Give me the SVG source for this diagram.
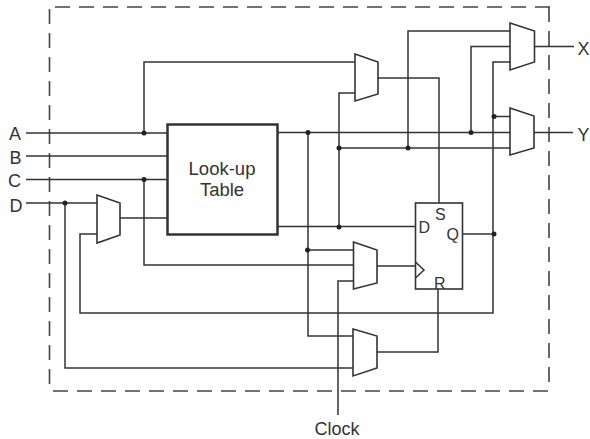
<svg xmlns="http://www.w3.org/2000/svg" width="590" height="439" viewBox="0 0 590 439">
<style>
.c{fill:none;stroke:#333;stroke-width:1.5}
.m{fill:#fff;stroke:#333;stroke-width:1.6;stroke-linejoin:miter}
.d{fill:#222;stroke:none}
.b{fill:none;stroke:#444;stroke-width:1.6;stroke-dasharray:15 9}
text{font-family:"Liberation Sans",Arial,sans-serif;fill:#333;font-size:18px}
.n{text-anchor:middle}
.f{font-size:16px}
</style>
<rect width="590" height="439" fill="#fff"/>
<g id="boundary">
<path class="b" d="M55 7H552"/>
<path class="b" d="M549 7V391"/>
<path class="b" d="M49.500 9V391"/>
<path class="b" d="M53 391H549"/>
</g>
<g id="connectors">
<path class="c" d="M26 133H167M26 156H167M26 179.500H167M26 203H97"/>
<path class="c" d="M144 133V62H355"/>
<path class="c" d="M144 179.500V265H355"/>
<path class="c" d="M65 203V368H353"/>
<path class="c" d="M120 218H167"/>
<path class="c" d="M97 234H80V313H493V62H510"/>
<path class="c" d="M277 132.500H510M277 226.500H415"/>
<path class="c" d="M308 132.500V336H353M308 250H353"/>
<path class="c" d="M355 93H339V227"/>
<path class="c" d="M339 148H510M408 148V31H510"/>
<path class="c" d="M378 78H439V203"/>
<path class="c" d="M471 132.500V46.500H510"/>
<path class="c" d="M494 116.500H510"/>
<path class="c" d="M463 234H493"/>
<path class="c" d="M534 46.500H574M534 132.500H573"/>
<path class="c" d="M377 266H415"/>
<path class="c" d="M338 415V281H353"/>
<path class="c" d="M377 352H438V289"/>
<g>
<circle class="d" cx="144" cy="133" r="2.500"/>
<circle class="d" cx="144" cy="179.500" r="2.500"/>
<circle class="d" cx="65" cy="203" r="2.500"/>
<circle class="d" cx="308" cy="132.500" r="2.500"/>
<circle class="d" cx="339" cy="148" r="2.500"/>
<circle class="d" cx="408" cy="148" r="2.500"/>
<circle class="d" cx="471" cy="132.500" r="2.500"/>
<circle class="d" cx="494" cy="116.500" r="2.500"/>
<circle class="d" cx="339" cy="227" r="2.500"/>
<circle class="d" cx="307.500" cy="250" r="2.500"/>
<circle class="d" cx="494" cy="234" r="2.500"/>
</g>
</g>
<g id="lut">
<rect x="167.500" y="124.500" width="110" height="110" fill="#fff" stroke="#333" stroke-width="2.500"/>
<text class="n" x="222" y="175" style="font-size:18.500px">Look-up</text>
<text class="n" x="222" y="196" style="font-size:18.500px">Table</text>
</g>
<g id="mux-d"><path class="m" d="M97 195L120 203V235L97 243Z"/></g>
<g id="mux-top"><path class="m" d="M355 54L378 62V94L355 101Z"/></g>
<g id="mux-clock"><path class="m" d="M353.500 242L377 250V283L353.500 289Z"/></g>
<g id="mux-reset"><path class="m" d="M353 329L377 336V368L353 376Z"/></g>
<g id="mux-x"><path class="m" d="M510 23L534.500 31V62L510 70Z"/></g>
<g id="mux-y"><path class="m" d="M510 108L534 116V148L510 155Z"/></g>
<g id="flipflop">
<rect x="415.500" y="203" width="47" height="86" fill="#fff" stroke="#333" stroke-width="1.600"/>
<path class="c" d="M415.500 262L424 270L415.500 278"/>
<text class="f" x="418.500" y="233">D</text>
<text class="f" x="435" y="220">S</text>
<text class="f" x="446.500" y="240">Q</text>
<text class="f" x="434" y="289">R</text>
</g>
<g id="labels">
<text class="n" x="15" y="140">A</text>
<text class="n" x="15.500" y="164">B</text>
<text class="n" x="14.500" y="187">C</text>
<text class="n" x="16" y="212">D</text>
<text class="n" x="583.500" y="55">X</text>
<text class="n" x="583.500" y="141">Y</text>
<text class="n" x="337" y="435">Clock</text>
</g>
</svg>
